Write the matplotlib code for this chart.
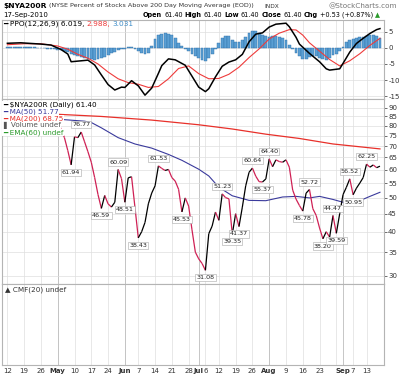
import numpy as np
import matplotlib
matplotlib.use("Agg")
import matplotlib.pyplot as plt
from matplotlib.collections import LineCollection
from matplotlib.ticker import NullLocator

# ---- data (x = trading day index, 0 = 12-Apr-2010) ----
price = [89.5, 90.5, 91.0, 91.5, 90.5, 91.2, 91.8, 91.0, 91.5, 91.8,
         92.0, 90.8, 91.0, 90.5, 90.0, 83.5, 78.0, 74.0, 68.0, 61.94,
         74.4, 74.0, 76.77, 72.0, 67.5, 63.0, 57.0, 51.0, 46.59, 50.7,
         48.0, 47.0, 48.5, 60.09, 56.6, 48.51, 56.9, 57.3, 47.0, 38.43,
         40.0, 42.5, 48.0, 51.5, 54.0, 61.53, 60.5, 59.7, 60.1, 57.0,
         55.7, 52.8, 45.53, 49.9, 47.3, 40.5, 35.0, 33.5, 32.5, 31.08,
         39.5, 41.5, 45.5, 43.1, 51.23, 50.0, 49.6, 39.35, 45.0, 41.37,
         47.0, 54.0, 59.0, 60.64, 57.5, 55.5, 55.37, 56.5, 64.40, 61.2,
         64.0, 63.3, 63.0, 64.0, 61.0, 52.5, 49.5, 47.5, 45.78, 51.5,
         52.72, 46.5, 44.5, 41.0, 38.20, 40.0, 38.6, 44.47, 39.59, 45.0,
         51.0, 53.5, 56.52, 50.95, 53.2, 55.0, 57.0, 62.25, 61.0, 61.9,
         60.8, 61.40]
days = np.arange(len(price))

label_days = [19, 22, 28, 33, 35, 39, 45, 52, 59, 64, 67, 69, 73, 76, 78,
              88, 90, 94, 97, 98, 102, 103, 107]

ma50_days = [0, 8, 15, 23, 25, 28, 33, 38, 43, 48, 52, 57, 60, 63, 67, 72,
             77, 82, 86, 90, 93, 97, 100, 102, 105, 108, 111]
ma50 = [85.5, 84.5, 83.5, 82.4, 81.7, 78.9, 74.0, 71.0, 69.1, 66.3, 63.8,
        60.2, 57.6, 53.5, 50.6, 49.1, 49.0, 50.2, 50.4, 49.9, 50.4, 49.4,
        48.5, 48.3, 49.0, 50.4, 51.77]
ma200_days = [0, 14, 28, 43, 57, 67, 77, 87, 97, 111]
ma200 = [87.0, 86.3, 85.0, 83.0, 80.5, 78.3, 75.7, 73.6, 71.0, 68.75]

ppo_days = [0, 4, 10, 13, 16, 18, 19, 22, 24, 26, 28, 30, 32, 34, 35, 37,
            39, 41, 43, 45, 46, 48, 50, 53, 55, 57, 59, 60, 62, 64, 66, 68,
            70, 72, 74, 76, 78, 80, 83, 84, 86, 87, 90, 93, 95, 96, 99, 100,
            102, 104, 106, 108, 110, 111]
ppo = [1.45, 1.6, 1.2, 0.9, -0.5, -1.9, -4.3, -4.0, -3.8, -5.3, -8.4, -11.4,
       -13.1, -12.2, -12.3, -10.2, -11.8, -14.7, -12.5, -7.9, -5.5, -3.4,
       -3.7, -5.4, -8.8, -12.2, -13.6, -12.7, -9.0, -5.7, -4.4, -3.7, -2.0,
       1.9, 4.3, 4.7, 6.5, 7.4, 7.7, 6.6, 3.3, 1.2, -1.7, -4.3, -6.5, -6.9,
       -6.5, -4.8, -1.3, 1.4, 3.0, 4.5, 5.7, 6.019]
sig_days = [0, 5, 10, 15, 18, 21, 24, 27, 30, 33, 36, 39, 42, 45, 48, 51,
            54, 57, 60, 63, 66, 69, 72, 75, 78, 81, 84, 86, 88, 90, 93, 96,
            99, 102, 105, 108, 111]
signal = [1.0, 1.3, 1.3, 0.6, -0.4, -2.0, -3.2, -5.0, -7.5, -9.6, -10.8,
          -11.3, -12.3, -12.0, -9.6, -6.4, -5.6, -8.0, -9.6, -9.5, -8.2,
          -6.0, -3.0, -0.3, 2.8, 4.6, 5.7, 5.6, 4.0, 1.6, -1.0, -3.6, -5.6,
          -4.0, -1.8, 0.8, 2.988]
hist = [0.3, 0.3, 0.35, 0.35, 0.3, 0.3, 0.25, 0.2, 0.2, 0.1,
        0.05, -0.1, -0.2, -0.3, -0.4, -0.5, -0.6, -0.8, -1.4, -1.9,
        -2.3, -2.6, -2.9, -3.1, -3.3, -3.5, -3.7, -3.5, -3.2, -2.7,
        -2.2, -1.7, -1.2, -0.7, -0.4, -0.2, 0.2, 0.4, -0.3, -1.0,
        -1.7, -1.9, -1.6, 0.5, 2.8, 4.0, 4.3, 4.5, 4.4, 4.0,
        3.0, 1.6, 0.6, -0.2, -0.8, -1.8, -2.6, -3.2, -3.7, -4.0,
        -3.2, -1.8, -0.2, 1.5, 3.0, 3.8, 3.6, 2.4, 2.0, 1.9,
        2.6, 3.4, 4.7, 5.3, 5.2, 4.7, 4.0, 3.6, 3.5, 3.6,
        3.7, 3.5, 3.2, 2.4, 1.0, -0.4, -1.6, -2.6, -3.4, -3.3,
        -2.8, -2.5, -2.6, -3.1, -3.5, -3.6, -3.2, -2.3, -1.8, -1.0,
        0.3, 1.8, 2.5, 2.7, 3.0, 3.3, 3.5, 3.7, 3.9, 4.0,
        3.6, 3.031]

week_days = [0, 5, 10, 15, 20, 25, 30, 35, 39, 44, 49, 54, 59, 63, 68, 73,
             78, 83, 88, 93, 98, 103, 107]
month_days = [15, 35, 57, 78, 100]
tick_days = [0, 5, 10, 15, 20, 25, 30, 35, 39, 44, 49, 54, 57, 59, 63, 68,
             73, 78, 83, 88, 93, 100, 103, 107]
tick_labels = ['12', '19', '26', 'May', '10', '17', '24', 'Jun', '7', '14',
               '21', '28', 'Jul', '6', '12', '19', '26', 'Aug', '9', '16',
               '23', 'Sep', '7', '13']
months = ['May', 'Jun', 'Jul', 'Aug', 'Sep']
price_ticks = [30, 35, 40, 45, 50, 55, 60, 65, 70, 75, 80, 85, 90]
ppo_ticks = [5, 0, -5, -10, -15]

# ---- figure ----
W, H = 400, 376
plt.rcParams['font.family'] = ['DejaVu Sans']
fig = plt.figure(figsize=(W / 100, H / 100), dpi=100)
fig.patch.set_facecolor('white')

GRID = '#dedede'
MGRID = '#bdbdbd'
EDGE = '#b4b4b4'


def px_axes(top, bottom):
    return fig.add_axes([2 / W, 1 - bottom / H, 382 / W, (bottom - top) / H])


def style(ax):
    ax.set_xlim(-1.6, 112.2)
    for s in ax.spines.values():
        s.set_color(EDGE)
        s.set_linewidth(0.8)
    ax.yaxis.tick_right()
    ax.tick_params(axis='y', labelsize=5, length=2, pad=1, colors='#333333',
                   width=0.5)
    ax.tick_params(axis='x', length=0, labelbottom=False)
    for d in week_days:
        ax.axvline(d, color=GRID, lw=0.5, zorder=0)
    for d in month_days:
        ax.axvline(d, color=MGRID, lw=0.6, zorder=0)


ax_ppo = px_axes(20, 99)
ax_px = px_axes(99, 284)
ax_cmf = px_axes(284, 365)
for a in (ax_ppo, ax_px, ax_cmf):
    style(a)

# PPO panel
ax_ppo.set_ylim(-15.9, 8.7)
ax_ppo.set_yticks(ppo_ticks)
ax_ppo.set_yticklabels([str(t) for t in ppo_ticks])
for t in ppo_ticks:
    ax_ppo.axhline(t, color=GRID, lw=0.5, zorder=0)
ax_ppo.bar(days, hist, width=0.85, color='#5a9fd4', edgecolor='#2f6fa8',
           linewidth=0.3, zorder=2)
ax_ppo.plot(sig_days, signal, color='#ee3b3b', lw=0.8, zorder=3)
ax_ppo.plot(ppo_days, ppo, color='black', lw=1.1, zorder=4)

# price panel
ax_px.set_yscale('log')
ax_px.set_ylim(28.42, 95.27)
ax_px.set_yticks(price_ticks)
ax_px.set_yticklabels([str(t) for t in price_ticks])
ax_px.yaxis.set_minor_locator(NullLocator())
for t in price_ticks:
    ax_px.axhline(t, color=GRID, lw=0.5, zorder=0)
ax_px.plot(ma200_days, ma200, color='#e8302a', lw=0.9, zorder=2)
ax_px.plot(ma50_days, ma50, color='#3a3a9c', lw=0.8, zorder=2)

segs, cols = [], []
for i in range(len(price) - 1):
    segs.append([(days[i], price[i]), (days[i + 1], price[i + 1])])
    cols.append('black' if price[i + 1] >= price[i] else '#cf2155')
ax_px.add_collection(LineCollection(segs, colors=cols, linewidths=0.9,
                                    zorder=3))

for d in label_days:
    v = price[d]
    peak = v >= price[d - 1] and v >= price[d + 1]
    ax_px.annotate(f"{v:.2f}", (d, v), xytext=(0, 3.5 if peak else -3.5),
                   textcoords='offset points', ha='center',
                   va='bottom' if peak else 'top', fontsize=4.6,
                   color='#222222', zorder=6,
                   bbox=dict(boxstyle='square,pad=0.18', fc='white',
                             ec='#a8a8a8', lw=0.4))

# CMF panel (empty)
ax_cmf.set_ylim(0, 1)
ax_cmf.set_yticks([])
ax_cmf.set_xticks(tick_days)
ax_cmf.set_xticklabels(tick_labels)
ax_cmf.tick_params(axis='x', labelbottom=True, labelsize=5, pad=2,
                   colors='#333333')
for lab in ax_cmf.get_xticklabels():
    if lab.get_text() in months:
        lab.set_fontweight('bold')

# ---- texts ----
renderer = fig.canvas.get_renderer()


def put(x, y, s, size=5.2, color='black', weight='normal', ha='left',
        box=False):
    kw = {}
    if box:
        kw['bbox'] = dict(fc='white', ec='none', pad=0.4)
    return fig.text(x / W, 1 - y / H, s, fontsize=size, color=color,
                    fontweight=weight, ha=ha, va='center', zorder=10, **kw)


def put_row(x, y, pieces, size=5.2, gap=2.2):
    for s, color, weight in pieces:
        t = put(x, y, s, size=size, color=color, weight=weight)
        x += t.get_window_extent(renderer).width + gap


put(3, 6, '$NYA200R', size=5.4, weight='bold')
put(49, 6, '(NYSE Percent of Stocks Above 200 Day Moving Average (EOD))',
    size=4.6, color='#333333')
put(264, 6, 'INDX', size=4.2, color='#333333')
put(397, 6, '@StockCharts.com', size=5.2, color='#777777', ha='right')
put(3, 15, '17-Sep-2010', size=5.0)
put_row(143, 15, [('Open', 'black', 'bold'), ('61.40', 'black', 'normal'),
                  ('High', 'black', 'bold'), ('61.40', 'black', 'normal'),
                  ('Low', 'black', 'bold'), ('61.40', 'black', 'normal'),
                  ('Close', 'black', 'bold'), ('61.40', 'black', 'normal'),
                  ('Chg', 'black', 'bold'),
                  ('+0.53 (+0.87%)', 'black', 'normal'),
                  ('\u25b2', '#2a9a2a', 'normal')], size=4.7, gap=2.0)

put_row(3, 24, [('\u2501 PPO(12,26,9) 6.019,', 'black', 'normal'),
                ('2.988,', '#ee3b3b', 'normal'),
                ('3.031', '#3d8cc8', 'normal')], size=5.3, gap=2.2)

legend_rows = [('\u2501 $NYA200R (Daily) 61.40', 'black'),
               ('\u2501 MA(50) 51.77', '#3a3a9c'),
               ('\u2501 MA(200) 68.75', '#e8302a'),
               ('\u258c Volume undef', '#555555'),
               ('\u2501 EMA(60) undef', '#2a9a2a')]
for k, (s, c) in enumerate(legend_rows):
    put(3, 105 + 6.9 * k, s, size=5.2, color=c, box=True)

put(5, 290, '\u25b2 CMF(20) undef', size=5.2, color='#333333')

fig.savefig('out.png', dpi=100, facecolor='white')
